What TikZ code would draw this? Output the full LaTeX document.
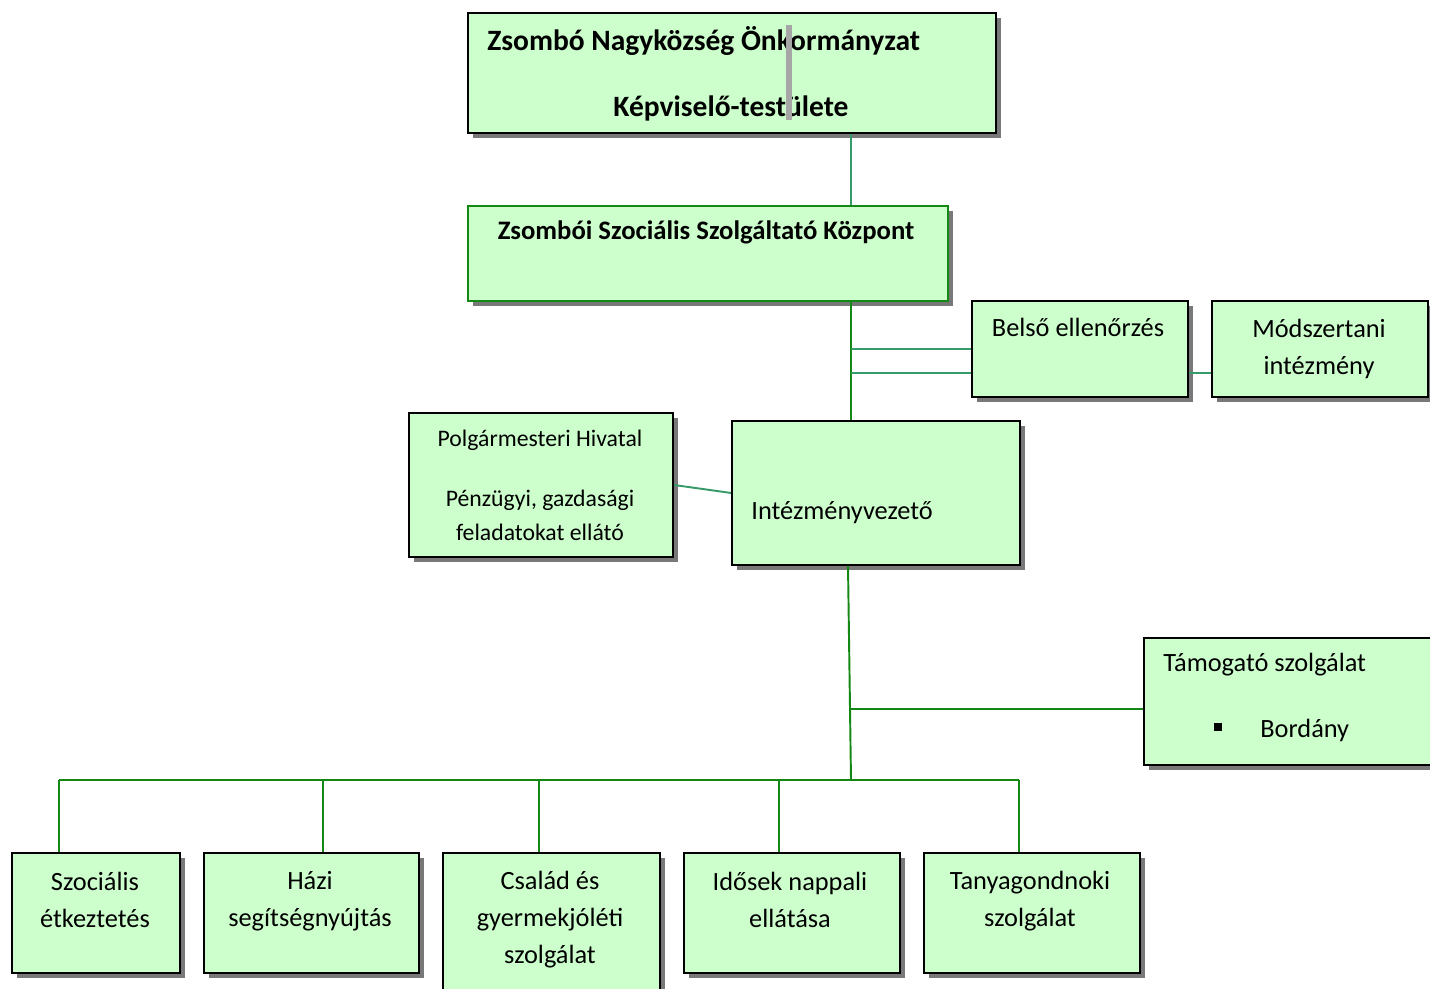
\documentclass[tikz,border=0pt]{standalone}
\usepackage{fontspec}
\setmainfont{Carlito}
\usepackage{tikz}
\usetikzlibrary{calc,positioning,shadows}
\definecolor{boxfill}{RGB}{204,255,204}
\definecolor{linegreen}{RGB}{20,135,20}
\definecolor{lineteal}{RGB}{55,155,105}
\definecolor{shadowgray}{RGB}{120,120,120}
\tikzset{%
	unitbox/.style  = {draw, line width=1.1pt, fill=boxfill, rectangle, anchor=north west, inner sep=0pt,
	                   drop shadow={shadow xshift=0.11cm, shadow yshift=-0.11cm, fill=shadowgray, opacity=1}},
	greenbox/.style = {unitbox, draw=linegreen},
	txt/.style      = {inner sep=0pt, font=\fontsize{15}{21}\selectfont, align=center},
	smalltxt/.style = {inner sep=0pt, font=\fontsize{13.5}{19.3}\selectfont, align=center},
	boldtxt/.style  = {txt, font=\fontsize{15.2}{21}\selectfont\bfseries},
	bigtxt/.style   = {txt, font=\fontsize{16.8}{21}\selectfont\bfseries},
	gline/.style    = {draw=linegreen, line width=1.1pt},
	tline/.style    = {draw=lineteal, line width=1.1pt},
}

\begin{document}
\begin{tikzpicture}[x=0.02cm,y=-0.02cm]
	\useasboundingbox (0,0) rectangle (1430,989);
	% boxes
	\node [unitbox, minimum width=528*0.02cm, minimum height=120*0.02cm] (kepv) at (467,12) {};
	\node [greenbox, minimum width=480*0.02cm, minimum height=95*0.02cm] (kozpont) at (467,205) {};
	\node [unitbox, minimum width=216*0.02cm, minimum height=96*0.02cm] (belso) at (971,300) {};
	\node [unitbox, minimum width=216*0.02cm, minimum height=96*0.02cm] (modsz) at (1211,300) {};
	\node [unitbox, minimum width=264*0.02cm, minimum height=144*0.02cm] (polg) at (408,412) {};
	\node [unitbox, minimum width=288*0.02cm, minimum height=144*0.02cm] (intvez) at (731,420) {};
	\node [unitbox, minimum width=300*0.02cm, minimum height=127*0.02cm] (tamog) at (1143,637) {};
	\node [unitbox, minimum width=168*0.02cm, minimum height=120*0.02cm] (szoc) at (11,852) {};
	\node [unitbox, minimum width=215*0.02cm, minimum height=120*0.02cm] (hazi) at (203,852) {};
	\node [unitbox, minimum width=217*0.02cm, minimum height=160*0.02cm] (csal) at (442,852) {};
	\node [unitbox, minimum width=216*0.02cm, minimum height=120*0.02cm] (idos) at (683,852) {};
	\node [unitbox, minimum width=216*0.02cm, minimum height=120*0.02cm] (tanya) at (923,852) {};

	% texts
	\node [bigtxt, anchor=west] (kepvA) at (487,41) {Zsombó Nagyközség Önkormányzat};
	\node [bigtxt] (kepvB) at (731,108) {Képviselő-testülete};
	\fill [gray!70] (786,25) rectangle (792,120);
	\node [boldtxt] (kozpontT) at (706,232) {Zsombói Szociális Szolgáltató Központ};
	\node [txt] (belsoT) at (1078,327) {Belső ellenőrzés};
	\node [txt] (modszT) at (1319,349) {Módszertani\\intézmény};
	\node [smalltxt] (polgT) at (540,485) {Polgármesteri Hivatal\\[14.8pt]Pénzügyi, gazdasági\\feladatokat ellátó};
	\node [txt, anchor=west] (intvezT) at (751,513) {Intézményvezető};
	\node [txt, anchor=west] (tamogT) at (1163,665) {Támogató szolgálat};
	\node [fill=black, minimum size=8*0.02cm, inner sep=0pt] (bullet) at (1218,727) {};
	\node [txt, anchor=west] (bordT) at (1260,730) {Bordány};
	\node [txt] (szocT) at (95,900) {Szociális\\étkeztetés};
	\node [txt] (haziT) at (310,901) {Házi\\segítségnyújtás};
	\node [txt] (csalT) at (550,920) {Család és\\gyermekjóléti\\szolgálat};
	\node [txt] (idosT) at (790,900) {Idősek nappali\\ellátása};
	\node [txt] (tanyaT) at (1030,901) {Tanyagondnoki\\szolgálat};

	% connectors
	\coordinate (spine) at (851,0);
	\coordinate (bus) at (851,780);
	\draw [tline] (kepv.south -| spine) -- (kozpont.north -| spine);
	\draw [gline] (kozpont.south -| spine) -- (intvez.north -| spine);
	\draw [tline] (spine |- belso.west) -- (belso.west);
	\draw [tline] ([yshift=-0.48cm]belso.west -| spine) -- ([yshift=-0.48cm]belso.west);
	\draw [tline] ([yshift=-0.48cm]belso.east) -- ([yshift=-0.48cm]modsz.west);
	\draw [tline] (polg.east) -- (intvez.west);
	\draw [gline] ([xshift=-0.06cm]intvez.south -| spine) -- (bus);
	\draw [gline] ([yshift=-0.15cm]tamog.west -| spine) -- ([yshift=-0.15cm]tamog.west);
	\foreach \b/\x in {szoc/59, hazi/323, csal/539, idos/779, tanya/1019}
		\coordinate (d\b) at (\x,780);
	\draw [gline] (dszoc) -- (dtanya);
	\foreach \b in {szoc, hazi, csal, idos, tanya}
		\draw [gline] (d\b) -- (d\b |- \b.north);
\end{tikzpicture}
\end{document}
